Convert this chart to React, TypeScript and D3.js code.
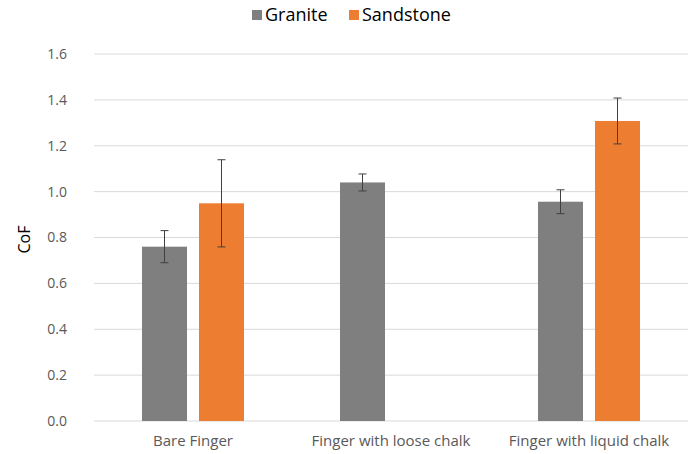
import React from "react";
import * as d3 from "d3";

const categories = ["Bare Finger", "Finger with loose chalk", "Finger with liquid chalk"];
const seriesNames = ["Granite", "Sandstone"];
const seriesColors = ["#7f7f7f", "#ed7d31"];
const granite = [0.76, 1.04, 0.956];
const graniteErr = [0.07, 0.037, 0.052];
const sandstone: (number | null)[] = [0.949, null, 1.308];
const sandstoneErr: (number | null)[] = [0.19, null, 0.1];
const yTicks = [0, 0.2, 0.4, 0.6, 0.8, 1.0, 1.2, 1.4, 1.6];

export default function App() {
  const W = 696, H = 454;
  const left = 94, right = 688, top = 54, bottom = 421;
  const x = d3.scaleBand<string>().domain(categories).range([left, right]).padding(0);
  const y = d3.scaleLinear().domain([0, 1.6]).range([bottom, top]);
  const barW = 45, gap = 12;
  const values = [granite, sandstone];
  const errs = [graniteErr, sandstoneErr];
  const font = "'Open Sans', Lato, sans-serif";

  return (
    <svg width={W} height={H} style={{ position: "absolute", left: 0, top: 0, background: "#fff" }}>
      {yTicks.map((t) => (
        <g key={t}>
          <line x1={left} x2={right} y1={y(t)} y2={y(t)} stroke="#d9d9d9" strokeWidth={1} />
          <text x={67} y={y(t)} dy="0.35em" textAnchor="end" fontSize={14} fill="#595959" fontFamily={font}>
            {t.toFixed(1)}
          </text>
        </g>
      ))}
      <text transform={`translate(30,${(top + bottom) / 2 + 2}) rotate(-90)`} textAnchor="middle" fontSize={16} fill="#000" fontFamily={font}>
        CoF
      </text>
      {categories.map((c, i) => {
        const cx = x(c)! + x.bandwidth() / 2;
        const groupW = barW * 2 + gap;
        return (
          <g key={c}>
            {values.map((vals, s) => {
              const v = vals[i];
              if (v == null) return null;
              const bx = cx - groupW / 2 + s * (barW + gap);
              const e = errs[s][i] as number;
              const mx = bx + barW / 2;
              return (
                <g key={s}>
                  <rect x={bx} y={y(v)} width={barW} height={y(0) - y(v)} fill={seriesColors[s]} />
                  <line x1={mx} x2={mx} y1={y(v + e)} y2={y(v - e)} stroke="#404040" strokeWidth={1} />
                  <line x1={mx - 4} x2={mx + 4} y1={y(v + e)} y2={y(v + e)} stroke="#404040" strokeWidth={1} />
                  <line x1={mx - 4} x2={mx + 4} y1={y(v - e)} y2={y(v - e)} stroke="#404040" strokeWidth={1} />
                </g>
              );
            })}
            <text x={cx} y={446} textAnchor="middle" fontSize={15} fill="#595959" fontFamily={font}>
              {c}
            </text>
          </g>
        );
      })}
      {seriesNames.map((n, s) => {
        const lx = s === 0 ? 252 : 349;
        return (
          <g key={n}>
            <rect x={lx} y={10} width={10} height={10} fill={seriesColors[s]} />
            <text x={lx + 13} y={15} dy="0.35em" fontSize={18} fill="#000" fontFamily={font}>
              {n}
            </text>
          </g>
        );
      })}
    </svg>
  );
}
